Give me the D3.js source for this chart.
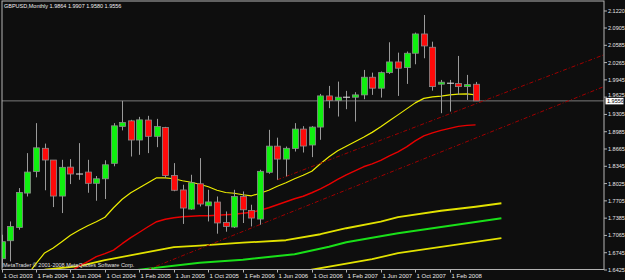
<!DOCTYPE html>
<html>
<head>
<meta charset="utf-8">
<script src="https://cdn.jsdelivr.net/npm/d3@7"></script>
<style>
  body { margin: 0; background: #0e0e0e; }
  svg { display: block; }
</style>
</head>
<body>
<svg></svg>
<script>
// GBPUSD monthly candles, Oct 2003 - May 2008, MetaTrader style
const width = 625;
const height = 280;

const svg = d3.select("svg")
    .attr("width", width)
    .attr("height", height)
    .style("background", "#0e0e0e");

// plot frame
const frameLeft = 2, frameRight = 604, frameTop = 1, frameBottom = 269.5;

// [open, high, low, close] per month starting Oct 2003
const candles = [
  [1.6634, 1.7078, 1.6468, 1.6949],
  [1.6967, 1.7324, 1.6584, 1.7232],
  [1.7213, 1.7942, 1.7171, 1.7860],
  [1.7849, 1.8589, 1.7786, 1.8238],
  [1.8249, 1.9144, 1.8141, 1.8687],
  [1.8678, 1.8765, 1.7901, 1.8461],
  [1.8461, 1.8461, 1.7590, 1.7794],
  [1.7794, 1.8465, 1.7479, 1.8326],
  [1.8330, 1.8478, 1.8016, 1.8202],
  [1.8202, 1.8774, 1.8095, 1.8202],
  [1.8238, 1.8465, 1.7855, 1.8030],
  [1.8030, 1.8165, 1.7707, 1.8114],
  [1.8114, 1.8456, 1.7740, 1.8373],
  [1.8400, 1.9144, 1.8345, 1.9094],
  [1.9084, 1.9556, 1.9010, 1.9155],
  [1.9186, 1.9205, 1.8526, 1.8831],
  [1.8831, 1.9260, 1.8557, 1.9205],
  [1.9201, 1.9279, 1.8589, 1.8900],
  [1.8900, 1.9223, 1.8699, 1.9081],
  [1.9062, 1.9075, 1.8132, 1.8175],
  [1.8175, 1.8404, 1.7883, 1.7901],
  [1.7907, 1.8003, 1.7278, 1.7572],
  [1.7553, 1.8188, 1.7540, 1.8040],
  [1.8021, 1.8496, 1.7601, 1.7646],
  [1.7614, 1.7910, 1.7324, 1.7685],
  [1.7683, 1.7786, 1.7097, 1.7296],
  [1.7304, 1.7509, 1.7134, 1.7232],
  [1.7221, 1.7910, 1.7202, 1.7786],
  [1.7786, 1.7879, 1.7295, 1.7540],
  [1.7528, 1.7633, 1.7232, 1.7387],
  [1.7368, 1.8280, 1.7263, 1.8252],
  [1.8234, 1.9020, 1.8206, 1.8718],
  [1.8718, 1.8875, 1.8095, 1.8478],
  [1.8478, 1.8711, 1.8160, 1.8678],
  [1.8674, 1.9144, 1.8618, 1.9034],
  [1.9034, 1.9088, 1.8600, 1.8720],
  [1.8739, 1.9088, 1.8515, 1.9071],
  [1.9071, 1.9685, 1.8835, 1.9648],
  [1.9648, 1.9833, 1.9421, 1.9561],
  [1.9565, 1.9913, 1.9266, 1.9624],
  [1.9624, 1.9741, 1.9402, 1.9624],
  [1.9624, 1.9717, 1.9173, 1.9667],
  [1.9667, 2.0129, 1.9587, 1.9994],
  [1.9994, 2.0079, 1.9667, 1.9791],
  [1.9791, 2.0100, 1.9617, 2.0079],
  [2.0079, 2.0641, 2.0055, 2.0277],
  [2.0277, 2.0449, 1.9648, 2.0161],
  [2.0172, 2.0470, 1.9870, 2.0438],
  [2.0438, 2.0820, 2.0234, 2.0795],
  [2.0795, 2.1146, 2.0345, 2.0573],
  [2.0549, 2.0652, 1.9746, 1.9820],
  [1.9865, 1.9944, 1.9328, 1.9902],
  [1.9883, 1.9944, 1.9358, 1.9883],
  [1.9876, 2.0388, 1.9667, 1.9820],
  [1.9820, 2.0037, 1.9574, 1.9857],
  [1.9864, 1.9907, 1.9556, 1.9556]
];

// fast yellow average, starts at bar 3
const fastStart = 3;
const fastMA = [1.6329, 1.6542, 1.6740, 1.6832, 1.6949, 1.7069, 1.7161, 1.7245, 1.7319, 1.7402,
  1.7577, 1.7735, 1.7855, 1.7947, 1.8040, 1.8132, 1.8132, 1.8114, 1.8077, 1.8049,
  1.8012, 1.7966, 1.7901, 1.7860, 1.7846, 1.7818, 1.7799, 1.7846, 1.7901, 1.7975,
  1.8040, 1.8114, 1.8178, 1.8252, 1.8391, 1.8520, 1.8631, 1.8715, 1.8798, 1.8881,
  1.8973, 1.9075, 1.9186, 1.9297, 1.9408, 1.9519, 1.9602, 1.9630, 1.9643, 1.9667,
  1.9680, 1.9685, 1.9667];

// red average, starts at bar 8
const redStart = 8;
const redMA = [1.6394, 1.6496, 1.6579, 1.6671, 1.6727, 1.6792, 1.6912, 1.7023, 1.7124, 1.7226,
  1.7319, 1.7365, 1.7393, 1.7411, 1.7420, 1.7430, 1.7430, 1.7439, 1.7448, 1.7457,
  1.7476, 1.7494, 1.7531, 1.7577, 1.7633, 1.7688, 1.7744, 1.7790, 1.7855, 1.7929,
  1.8012, 1.8104, 1.8188, 1.8262, 1.8336, 1.8391, 1.8456, 1.8539, 1.8613, 1.8705,
  1.8816, 1.8909, 1.8964, 1.9010, 1.9047, 1.9084, 1.9103, 1.9112];

// slow averages, [bar, price]
const slowYellow = [[5, 1.6431], [9, 1.6496], [12, 1.6607], [16, 1.6727], [20, 1.6847], [23, 1.6875],
  [28, 1.6930], [33, 1.6976], [37, 1.7087], [40, 1.7198], [44, 1.7319], [46, 1.7402],
  [51, 1.7522], [55, 1.7596], [58, 1.7661]];
const slowGreen = [[15, 1.6413], [16, 1.6431], [23, 1.6561], [28, 1.6616], [34, 1.6718], [38, 1.6856],
  [40, 1.6940], [46, 1.7106], [52, 1.7245], [58, 1.7383]];
const slowYellow2 = [[35, 1.6403], [36, 1.6431], [43, 1.6625], [46, 1.6736], [52, 1.6875], [58, 1.7014]];

// trend lines, two anchors each, drawn as rays to the right
const trendUpper = [[32, 1.8095], [60, 1.9805]];
const trendLower = [[16, 1.6370], [60, 1.9187]];

const priceTicks = ["2.1220", "2.0905", "2.0585", "2.0265", "1.9945", "1.9625", "1.9305", "1.8985",
  "1.8665", "1.8345", "1.8025", "1.7705", "1.7385", "1.7065", "1.6745", "1.6425"];
const timeTicks = [[0, "1 Oct 2003"], [4, "1 Feb 2004"], [8, "1 Jun 2004"], [12, "1 Oct 2004"],
  [16, "1 Feb 2005"], [20, "1 Jun 2005"], [24, "1 Oct 2005"], [28, "1 Feb 2006"],
  [32, "1 Jun 2006"], [36, "1 Oct 2006"], [40, "1 Feb 2007"], [44, "1 Jun 2007"],
  [48, "1 Oct 2007"], [52, "1 Feb 2008"]];
const lastPrice = 1.9556;
const header = "GBPUSD,Monthly  1.9864 1.9907 1.9580 1.9556";
const copyright = "MetaTrader \u00a9 2001-2008 MetaQuotes Software Corp.";

// scales
const x = d3.scaleLinear().domain([0, 52]).range([1.5, 449.7]);
const y = d3.scaleLinear().domain([1.6425, 2.1220]).range([270, 11]);

const font = "'Liberation Sans', Arial, sans-serif";
const frameColor = "#b4b4b4";

svg.append("defs").append("clipPath")
    .attr("id", "plot")
  .append("rect")
    .attr("x", frameLeft)
    .attr("y", frameTop)
    .attr("width", frameRight - frameLeft)
    .attr("height", frameBottom - frameTop);

const plot = svg.append("g").attr("clip-path", "url(#plot)");

// current price line
plot.append("line")
    .attr("x1", frameLeft).attr("x2", frameRight)
    .attr("y1", y(lastPrice)).attr("y2", y(lastPrice))
    .attr("stroke", "#7a7a7a")
    .attr("stroke-width", 1);

// moving averages
const line = d3.line().x(d => x(d[0])).y(d => y(d[1]));

function drawLine(points, color, w) {
  plot.append("path")
      .attr("d", line(points))
      .attr("fill", "none")
      .attr("stroke", color)
      .attr("stroke-width", w)
      .attr("stroke-linejoin", "round");
}

drawLine(slowYellow2, "#e2e200", 1.8);
drawLine(slowGreen, "#19e019", 2);
drawLine(slowYellow, "#e2e200", 1.8);
drawLine(redMA.map((v, i) => [i + redStart, v]), "#e80000", 1.4);
drawLine(fastMA.map((v, i) => [i + fastStart, v]), "#ecec00", 1.2);

// trend rays, extended to the right edge of the frame
[trendUpper, trendLower].forEach(t => {
  const slope = (t[1][1] - t[0][1]) / (t[1][0] - t[0][0]);
  const endBar = x.invert(frameRight + 2);
  plot.append("line")
      .attr("x1", x(t[0][0])).attr("y1", y(t[0][1]))
      .attr("x2", x(endBar)).attr("y2", y(t[0][1] + slope * (endBar - t[0][0])))
      .attr("stroke", "#a00000")
      .attr("stroke-width", 1)
      .attr("stroke-dasharray", "4,2,1,2");
});

// candles, keep bar index with each one
const bars = candles.map((c, i) => ({ i: i, o: c[0], h: c[1], l: c[2], c: c[3] }));
const cx = d => Math.round(x(d.i));

plot.selectAll(".wick")
    .data(bars)
    .enter().append("line")
    .attr("class", "wick")
    .attr("x1", d => cx(d) + 0.5)
    .attr("x2", d => cx(d) + 0.5)
    .attr("y1", d => y(d.h))
    .attr("y2", d => y(d.l))
    .attr("stroke", "#9a9a9a")
    .attr("stroke-width", 1);

plot.selectAll(".body")
    .data(bars.filter(d => d.o !== d.c))
    .enter().append("rect")
    .attr("class", "body")
    .attr("x", d => cx(d) - 2.5)
    .attr("y", d => y(Math.max(d.o, d.c)))
    .attr("width", 6)
    .attr("height", d => Math.abs(y(d.o) - y(d.c)))
    .attr("fill", d => d.c > d.o ? "#10f010" : "#ff0a0a")
    .attr("stroke", "#8c8c8c")
    .attr("stroke-width", 0.8);

plot.selectAll(".doji")
    .data(bars.filter(d => d.o === d.c))
    .enter().append("line")
    .attr("class", "doji")
    .attr("x1", d => cx(d) - 3)
    .attr("x2", d => cx(d) + 4)
    .attr("y1", d => y(d.o))
    .attr("y2", d => y(d.o))
    .attr("stroke", "#e6e6e6")
    .attr("stroke-width", 1);

// frame
svg.append("rect")
    .attr("x", frameLeft)
    .attr("y", frameTop)
    .attr("width", frameRight - frameLeft)
    .attr("height", frameBottom - frameTop)
    .attr("fill", "none")
    .attr("stroke", frameColor)
    .attr("stroke-width", 1);

// price axis
priceTicks.forEach(t => {
  const py = y(+t);
  // labels right next to the price box are nudged up a little
  const nudge = Math.abs(py - y(lastPrice)) < 6 ? -2.5 : 0;
  svg.append("line")
      .attr("x1", frameRight).attr("x2", frameRight + 3)
      .attr("y1", py).attr("y2", py)
      .attr("stroke", frameColor);
  svg.append("text")
      .attr("x", frameRight + 4)
      .attr("y", py + nudge)
      .attr("dy", "0.35em")
      .attr("fill", "#e8e8e8")
      .style("font-family", font)
      .style("font-size", "5.5px")
      .text(t);
});

// current price box
svg.append("rect")
    .attr("x", frameRight + 1.5)
    .attr("y", y(lastPrice) - 3)
    .attr("width", 18)
    .attr("height", 6.5)
    .attr("fill", "#ffffff");
svg.append("text")
    .attr("x", frameRight + 3)
    .attr("y", y(lastPrice) + 0.3)
    .attr("dy", "0.35em")
    .attr("fill", "#000000")
    .style("font-family", font)
    .style("font-size", "5.5px")
    .text(lastPrice.toFixed(4));

// time axis
timeTicks.forEach(t => {
  const tx = Math.round(x(t[0])) + 0.5;
  svg.append("line")
      .attr("x1", tx).attr("x2", tx)
      .attr("y1", frameBottom).attr("y2", frameBottom + 3)
      .attr("stroke", frameColor);
  svg.append("text")
      .attr("x", tx + 1)
      .attr("y", 278)
      .attr("fill", "#e8e8e8")
      .style("font-family", font)
      .style("font-size", "6px")
      .text(t[1]);
});

// header and copyright
svg.append("text")
    .attr("x", 4)
    .attr("y", 7.5)
    .attr("fill", "#f0f0f0")
    .style("font-family", font)
    .style("font-size", "5.5px")
    .text(header);

svg.append("text")
    .attr("x", 3)
    .attr("y", 267)
    .attr("fill", "#e0e0e0")
    .style("font-family", font)
    .style("font-size", "5.5px")
    .text(copyright);
</script>
</body>
</html>
